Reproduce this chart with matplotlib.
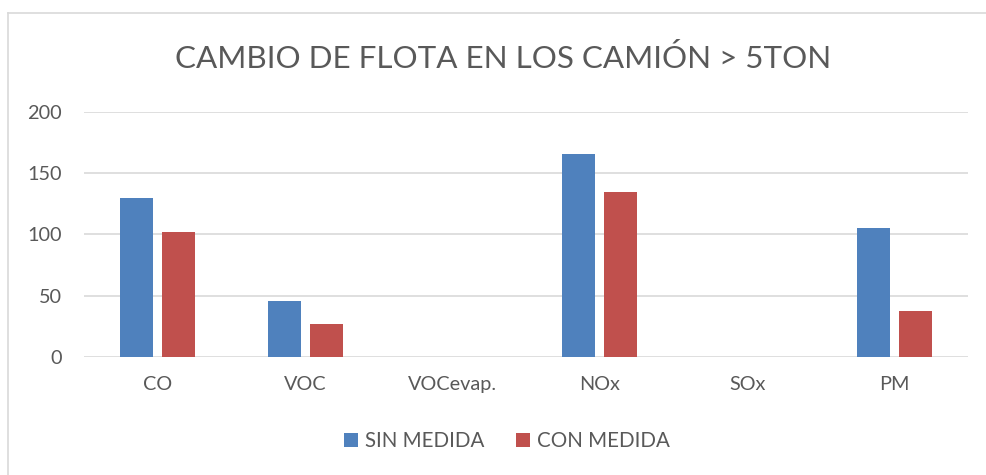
import numpy as np
import matplotlib.pyplot as plt
from matplotlib.lines import Line2D

categories = ['CO', 'VOC', 'VOCevap.', 'NOx', 'SOx', 'PM']
sin_medida = [130, 45.5, 0, 165.5, 0, 105.5]
con_medida = [102, 27, 0, 134.5, 0, 37.5]
y_ticks = [0, 50, 100, 150, 200]

title = 'CAMBIO DE FLOTA EN LOS CAMIÓN > 5TON'
c_blue = '#4F81BD'
c_red = '#C0504D'
c_text = '#595959'
c_grid = '#D9D9D9'

plt.rcParams['font.family'] = ['Lato', 'DejaVu Sans']

fig = plt.figure(figsize=(9.87, 4.75), dpi=100)
ax = fig.add_axes([84.3 / 987, 1 - 357 / 475, (968 - 84.3) / 987, (357 - 112) / 475])

x = np.arange(len(categories))
w = 0.224
off = 0.1426
ax.bar(x - off, sin_medida, w, color=c_blue, label='SIN MEDIDA', zorder=3)
ax.bar(x + off, con_medida, w, color=c_red, label='CON MEDIDA', zorder=3)

ax.set_xlim(-0.5, len(categories) - 0.5)
ax.set_ylim(0, 200)
ax.set_yticks(y_ticks)
ax.set_xticks(x)
ax.set_xticklabels(categories)
ax.yaxis.grid(True, color=c_grid, lw=1.2, zorder=0)
ax.set_axisbelow(True)
for s in ax.spines.values():
    s.set_visible(False)
ax.tick_params(axis='both', length=0, colors=c_text, labelsize=14.3)
ax.tick_params(axis='y', pad=16)
ax.tick_params(axis='x', pad=14)

fig.text(503 / 987, 1 - 58 / 475, title, ha='center', va='center',
         fontsize=22.6, color=c_text)

leg = fig.legend(loc='center', bbox_to_anchor=(507 / 987, 1 - 441 / 475), ncol=2,
                 frameon=False, fontsize=14.8, handlelength=0.7, handleheight=0.7,
                 handletextpad=0.35, columnspacing=1.5)
for t in leg.get_texts():
    t.set_color(c_text)

# chart frame (left and top edges visible)
fig.add_artist(Line2D([8 / 987, 8 / 987], [0, 1 - 13 / 475], color=c_grid, lw=1.2))
fig.add_artist(Line2D([8 / 987, 1], [1 - 13 / 475, 1 - 13 / 475], color=c_grid, lw=1.2))

fig.savefig('out.png', dpi=100)
